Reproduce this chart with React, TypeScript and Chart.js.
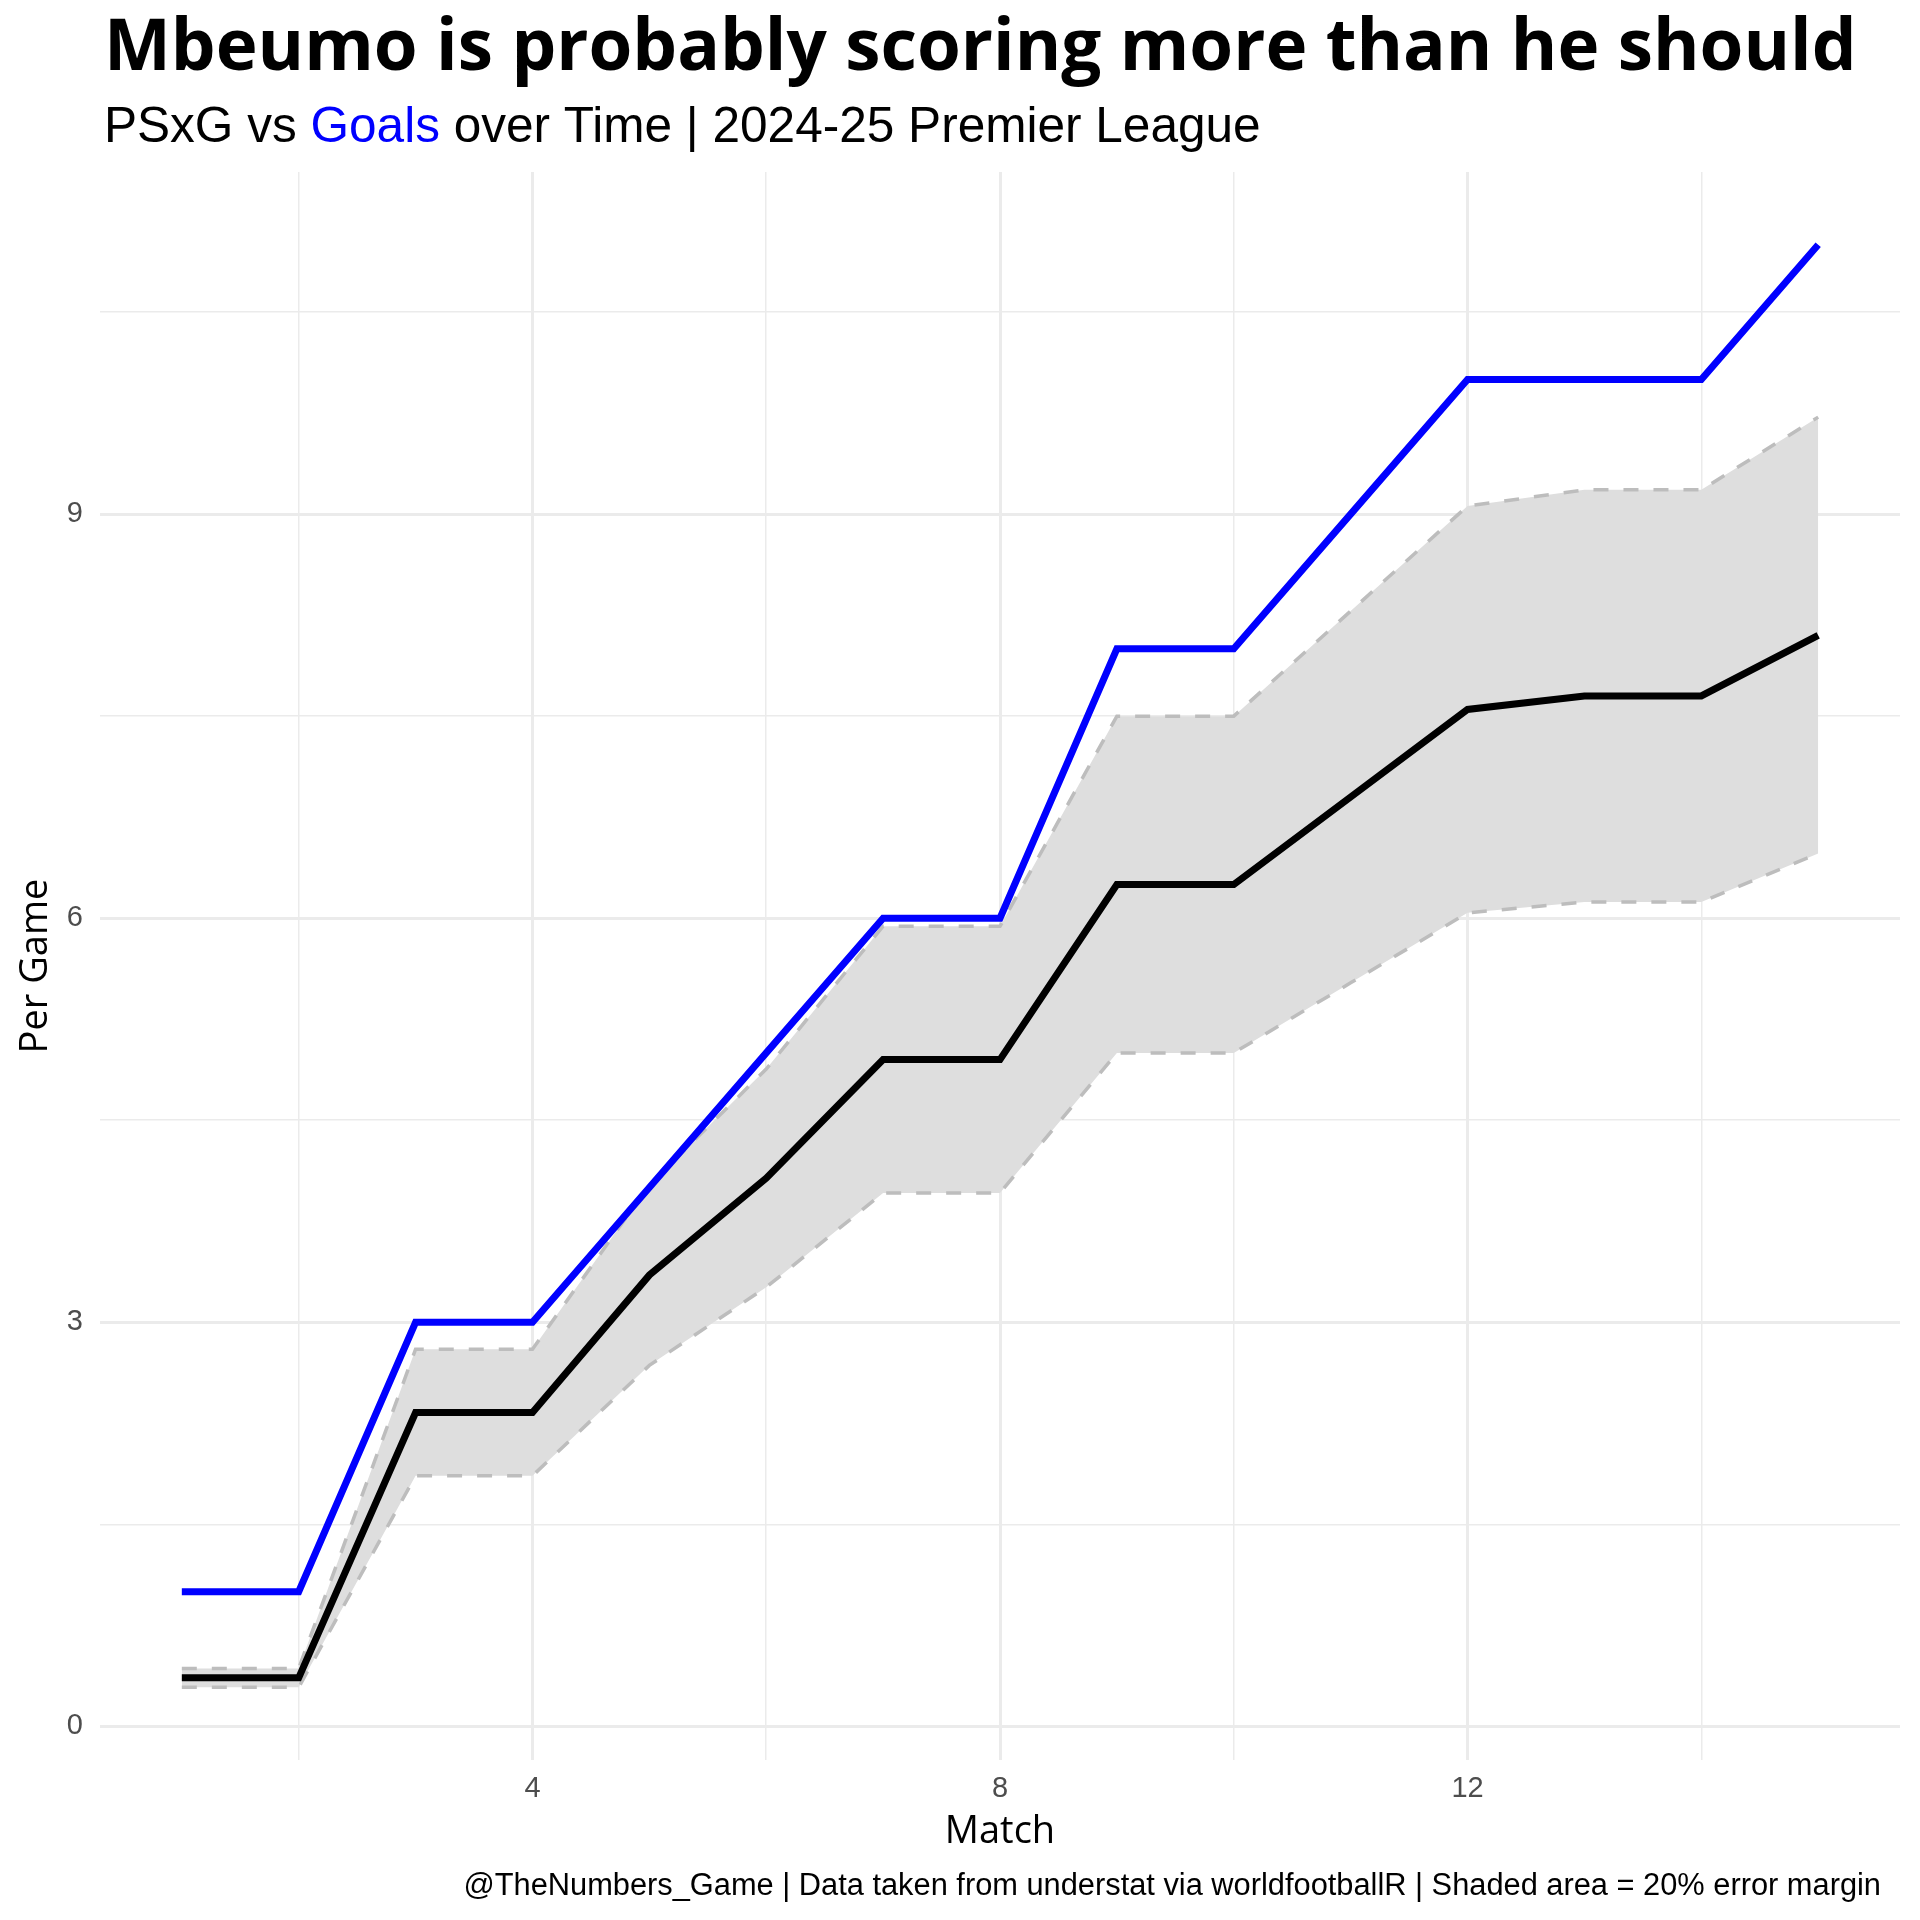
import React, { useEffect, useRef } from 'react';
import Chart from 'chart.js/auto';

// match-by-match cumulative values
const matches = [1, 2, 3, 4, 5, 6, 7, 8, 9, 10, 11, 12, 13, 14, 15];
const goals = [1, 1, 3, 3, 4, 5, 6, 6, 8, 8, 9, 10, 10, 10, 11];
const psxg = [0.36, 0.36, 2.33, 2.33, 3.35, 4.07, 4.95, 4.95, 6.25, 6.25, 6.9, 7.55, 7.65, 7.65, 8.1];
const psxgUpper = [0.43, 0.43, 2.8, 2.8, 4.02, 4.88, 5.94, 5.94, 7.5, 7.5, 8.28, 9.06, 9.18, 9.18, 9.72];
const psxgLower = [0.29, 0.29, 1.86, 1.86, 2.68, 3.26, 3.96, 3.96, 5.0, 5.0, 5.52, 6.04, 6.12, 6.12, 6.48];

const xMajorTicks = [4, 8, 12];
const xMinorTicks = [2, 6, 10, 14];
const yMajorTicks = [0, 3, 6, 9];
const yMinorTicks = [1.5, 4.5, 7.5, 10.5];

const TITLE = 'Mbeumo is probably scoring more than he should';
const SUBTITLE = [
  { text: 'PSxG vs ', color: '#000000' },
  { text: 'Goals', color: '#0000FF' },
  { text: ' over Time | 2024-25 Premier League', color: '#000000' },
];
const X_TITLE = 'Match';
const Y_TITLE = 'Per Game';
const CAPTION = '@TheNumbers_Game | Data taken from understat via worldfootballR | Shaded area = 20% error margin';

const SANS = '"Liberation Sans", Arial, sans-serif';
const OPEN = '"Open Sans", "Noto Sans", sans-serif';

const pts = (ys: number[]) => matches.map((m, i) => ({ x: m, y: ys[i] }));

// font size that makes a string a given width
function fitSize(ctx: CanvasRenderingContext2D, text: string, family: string, weight: string, width: number) {
  ctx.font = `${weight} 100px ${family}`;
  return (100 * width) / ctx.measureText(text).width;
}

const textPlugin = {
  id: 'ggText',
  afterDraw(chart: any) {
    const ctx: CanvasRenderingContext2D = chart.ctx;
    const area = chart.chartArea;
    ctx.save();
    ctx.textBaseline = 'alphabetic';
    ctx.textAlign = 'left';

    ctx.fillStyle = '#000000';
    const ts = fitSize(ctx, TITLE, OPEN, 'bold', 1753);
    ctx.font = `bold ${ts}px ${OPEN}`;
    ctx.fillText(TITLE, 104, 70);

    const sub = SUBTITLE.map(p => p.text).join('');
    const ss = fitSize(ctx, sub, SANS, 'normal', 1157);
    ctx.font = `normal ${ss}px ${SANS}`;
    let x = 104;
    for (const p of SUBTITLE) {
      ctx.fillStyle = p.color;
      ctx.fillText(p.text, x, 142);
      x += ctx.measureText(p.text).width;
    }

    ctx.fillStyle = '#000000';
    ctx.font = `normal 38px ${OPEN}`;
    ctx.textAlign = 'center';
    ctx.fillText(X_TITLE, (area.left + area.right) / 2, 1843);
    ctx.save();
    ctx.translate(47, (area.top + area.bottom) / 2);
    ctx.rotate(-Math.PI / 2);
    ctx.fillText(Y_TITLE, 0, 0);
    ctx.restore();

    ctx.textAlign = 'right';
    const cs = fitSize(ctx, CAPTION, SANS, 'normal', 1418);
    ctx.font = `normal ${cs}px ${SANS}`;
    ctx.fillText(CAPTION, 1881, 1895);
    ctx.restore();
  },
};

const gridColor = '#EBEBEB';
const bandLine = '#BDBDBD';

export default function App() {
  const canvasRef = useRef<HTMLCanvasElement | null>(null);
  useEffect(() => {
    const chart = new Chart(canvasRef.current!, {
      type: 'line',
      data: {
        datasets: [
          { label: 'Goals', data: pts(goals), borderColor: '#0000FF', borderWidth: 7, fill: false, order: 1 },
          { label: 'PSxG', data: pts(psxg), borderColor: '#000000', borderWidth: 7, fill: false, order: 2 },
          {
            label: 'Upper', data: pts(psxgUpper), borderColor: bandLine, borderWidth: 3.5, borderDash: [15, 15],
            backgroundColor: '#DEDEDE', fill: '+1', order: 3,
          },
          { label: 'Lower', data: pts(psxgLower), borderColor: bandLine, borderWidth: 3.5, borderDash: [15, 15], fill: false, order: 4 },
        ],
      },
      options: {
        animation: false,
        responsive: false,
        devicePixelRatio: 1,
        layout: { padding: { left: 0, right: 20, top: 172, bottom: 0 } },
        elements: { point: { radius: 0 }, line: { tension: 0 } },
        plugins: {
          legend: { display: false },
          tooltip: { enabled: false },
          filler: { drawTime: 'beforeDatasetsDraw' },
        } as any,
        scales: {
          x: {
            type: 'linear',
            min: 0.3,
            max: 15.7,
            afterFit: (s: any) => { s.height = 160; },
            afterBuildTicks: (s: any) => {
              s.ticks = [...xMinorTicks, ...xMajorTicks].sort((a, b) => a - b).map(v => ({ value: v }));
            },
            ticks: {
              autoSkip: false, maxRotation: 0, padding: 12, color: '#4D4D4D',
              font: { family: SANS, size: 29 },
              callback: (v: any) => (xMajorTicks.includes(v) ? String(v) : ''),
            },
            grid: {
              color: gridColor, drawTicks: false,
              lineWidth: (c: any) => (xMajorTicks.includes(c.tick?.value) ? 3 : 1.5),
            },
            border: { display: false },
          },
          y: {
            type: 'linear',
            min: -0.25,
            max: 11.54,
            afterFit: (s: any) => { s.width = 100; },
            afterBuildTicks: (s: any) => {
              s.ticks = [...yMinorTicks, ...yMajorTicks].sort((a, b) => a - b).map(v => ({ value: v }));
            },
            ticks: {
              autoSkip: false, padding: 17, color: '#4D4D4D',
              font: { family: SANS, size: 29 },
              callback: (v: any) => (yMajorTicks.includes(v) ? String(v) : ''),
            },
            grid: {
              color: gridColor, drawTicks: false,
              lineWidth: (c: any) => (yMajorTicks.includes(c.tick?.value) ? 3 : 1.5),
            },
            border: { display: false },
          },
        },
      },
      plugins: [textPlugin],
    });
    return () => chart.destroy();
  }, []);

  return (
    <div style={{ position: 'absolute', left: 0, top: 0, width: 1920, height: 1920, background: '#ffffff' }}>
      <canvas ref={canvasRef} width={1920} height={1920} />
    </div>
  );
}
